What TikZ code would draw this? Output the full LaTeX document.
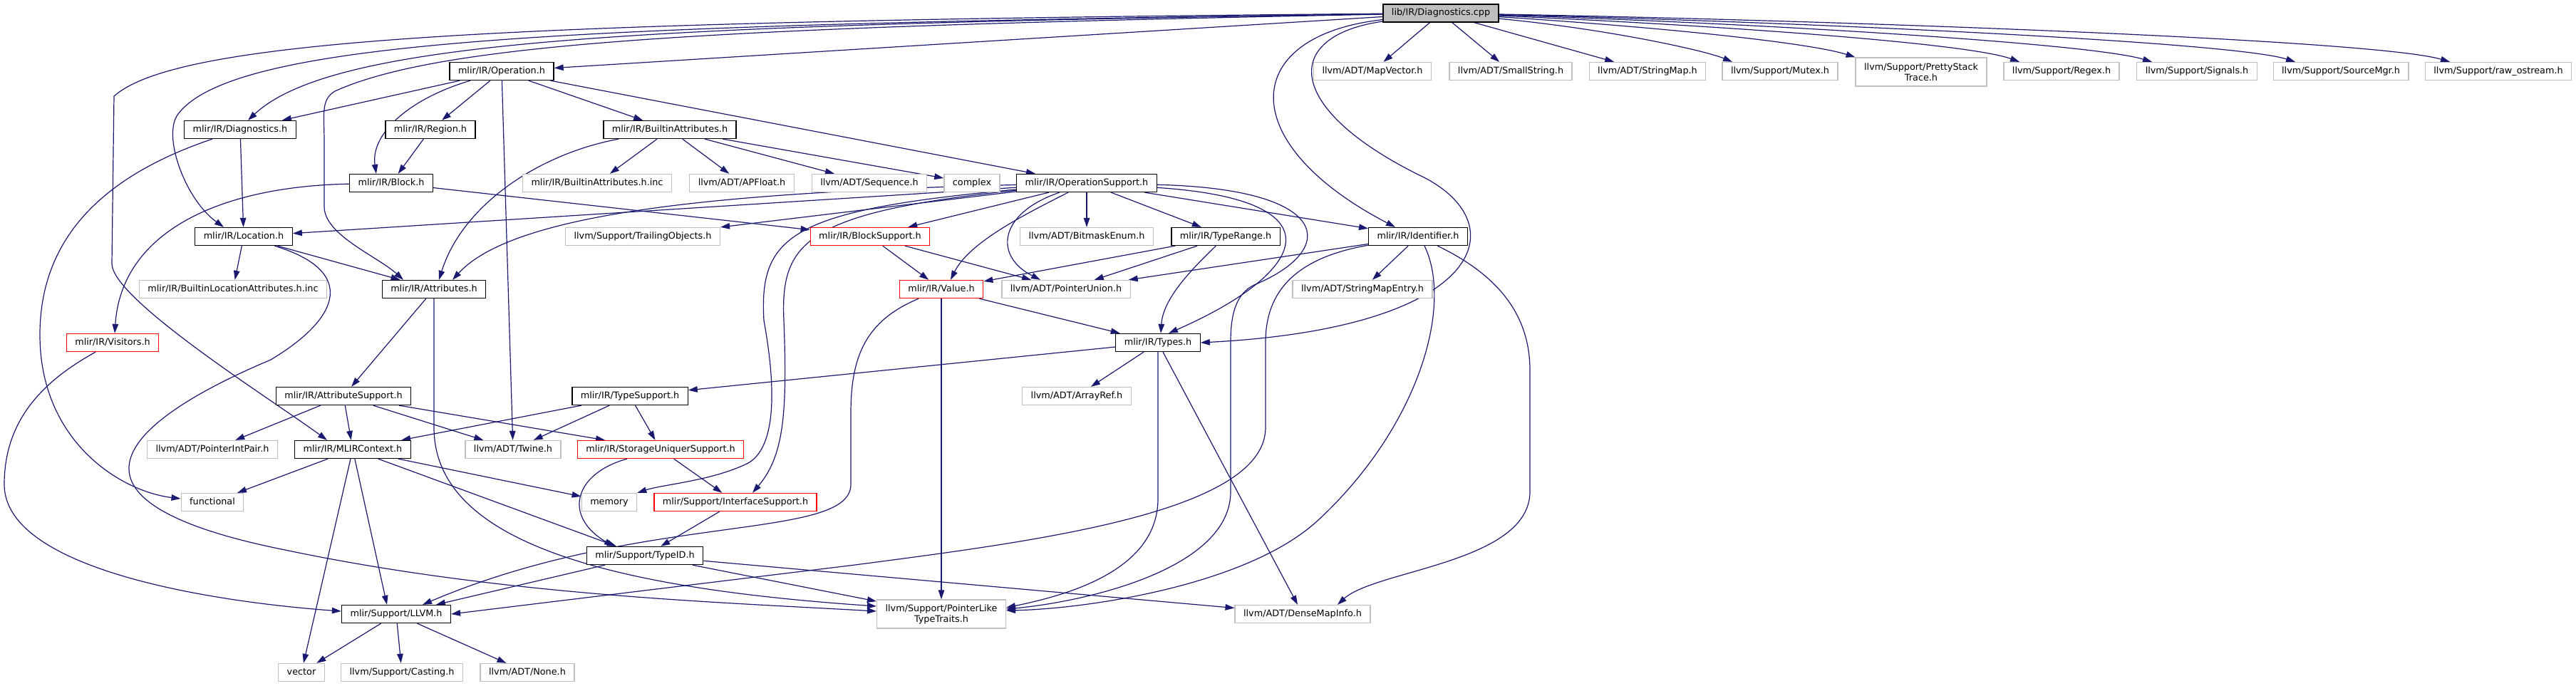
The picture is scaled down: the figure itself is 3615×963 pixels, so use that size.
\documentclass[tikz,border=0pt]{standalone}
\usepackage{fontspec}
\setmainfont{DejaVu Sans}
\usepackage{tikz}
\usetikzlibrary{arrows.meta,backgrounds}
\definecolor{incEdge}{HTML}{191970}
\definecolor{incRed}{HTML}{FF0000}
\definecolor{incGrey}{HTML}{BFBFBF}
\definecolor{incRoot}{HTML}{BFBFBF}

\begin{document}
\begin{tikzpicture}[
  x=1pt,y=-1pt,
  >={Triangle[length=13pt,width=8.5pt]},
  every node/.style={font=\fontsize{12.8}{15}\selectfont},
  box/.style={fill=white,line width=1.3pt,minimum height=25pt,
              inner xsep=12pt,inner ysep=5pt},
  hd/.style={box,draw=black,text height=9.5pt,text depth=3pt},
  hdred/.style={box,draw=incRed,text height=9.5pt,text depth=3pt},
  hdext/.style={box,draw=incGrey,text height=9.5pt,text depth=3pt},
  hdtwo/.style={box,draw=incGrey,minimum height=40pt,align=center},
  inc/.style={->,draw=incEdge,line width=1.2pt},
]
  \useasboundingbox (0,0) rectangle (3615,963);

  % root and first row
  \node[hd,fill=incRoot] (cpp) at (2022,18.5) {lib/IR/Diagnostics.cpp};
  \node[hd]     (op)       at (704,100)  {mlir/IR/Operation.h};
  \node[hdext]  (mapvec)   at (1926,100) {llvm/ADT/MapVector.h};
  \node[hdext]  (smallstr) at (2120,100) {llvm/ADT/SmallString.h};
  \node[hdext]  (strmap)   at (2312,100) {llvm/ADT/StringMap.h};
  \node[hdext]  (mutex)    at (2498,100) {llvm/Support/Mutex.h};
  \node[hdtwo]  (pretty)   at (2696,101) {llvm/Support/PrettyStack\\Trace.h};
  \node[hdext]  (regex)    at (2893,100) {llvm/Support/Regex.h};
  \node[hdext]  (signals)  at (3083,100) {llvm/Support/Signals.h};
  \node[hdext]  (srcmgr)   at (3285,100) {llvm/Support/SourceMgr.h};
  \node[hdext]  (rawos)    at (3506,100) {llvm/Support/raw\_ostream.h};

  \node[hd]     (diag)     at (337,182)  {mlir/IR/Diagnostics.h};
  \node[hd]     (region)   at (604,182)  {mlir/IR/Region.h};
  \node[hd]     (battr)    at (940,182)  {mlir/IR/BuiltinAttributes.h};

  \node[hd]     (block)    at (549,257)  {mlir/IR/Block.h};
  \node[hdext]  (battrinc) at (838,257)  {mlir/IR/BuiltinAttributes.h.inc};
  \node[hdext]  (apfloat)  at (1041,257) {llvm/ADT/APFloat.h};
  \node[hdext]  (seq)      at (1220,257) {llvm/ADT/Sequence.h};
  \node[hdext]  (complex)  at (1364,257) {complex};
  \node[hd]     (opsup)    at (1525,257) {mlir/IR/OperationSupport.h};

  \node[hd]     (loc)      at (342,332)  {mlir/IR/Location.h};
  \node[hdext]  (trailing) at (902,332)  {llvm/Support/TrailingObjects.h};
  \node[hdred]  (blocksup) at (1221,332) {mlir/IR/BlockSupport.h};
  \node[hdext]  (bitmask)  at (1525,332) {llvm/ADT/BitmaskEnum.h};
  \node[hd]     (typerange) at (1720,332) {mlir/IR/TypeRange.h};
  \node[hd]     (ident)    at (1990,332) {mlir/IR/Identifier.h};

  \node[hdext]  (bloc)     at (327,406)  {mlir/IR/BuiltinLocationAttributes.h.inc};
  \node[hd]     (attr)     at (609,406)  {mlir/IR/Attributes.h};
  \node[hdred]  (value)    at (1321,406) {mlir/IR/Value.h};
  \node[hdext]  (ptrunion) at (1496,406) {llvm/ADT/PointerUnion.h};
  \node[hdext]  (strmapentry) at (1912,406) {llvm/ADT/StringMapEntry.h};

  \node[hdred]  (visitors) at (158,481)  {mlir/IR/Visitors.h};
  \node[hd]     (types)    at (1625,481) {mlir/IR/Types.h};

  \node[hd]     (attrsup)  at (482,556)  {mlir/IR/AttributeSupport.h};
  \node[hd]     (typesup)  at (884,556)  {mlir/IR/TypeSupport.h};
  \node[hdext]  (arrayref) at (1511,556) {llvm/ADT/ArrayRef.h};

  \node[hdext]  (ptrintpair) at (298,631) {llvm/ADT/PointerIntPair.h};
  \node[hd]     (mlirctx)  at (495,631)  {mlir/IR/MLIRContext.h};
  \node[hdext]  (twine)    at (720,631)  {llvm/ADT/Twine.h};
  \node[hdred]  (storage)  at (927,631)  {mlir/IR/StorageUniquerSupport.h};

  \node[hdext]  (functional) at (298,705) {functional};
  \node[hdext]  (memory)   at (855,705)  {memory};
  \node[hdred]  (iface)    at (1032,705) {mlir/Support/InterfaceSupport.h};

  \node[hd]     (typeid)   at (905,780)  {mlir/Support/TypeID.h};

  \node[hd]     (llvm)     at (556,862)  {mlir/Support/LLVM.h};
  \node[hdtwo]  (pltt)     at (1321,862) {llvm/Support/PointerLike\\TypeTraits.h};
  \node[hdext]  (densemap) at (1828,862) {llvm/ADT/DenseMapInfo.h};

  \node[hdext]  (vector)   at (423,944)  {vector};
  \node[hdext]  (casting)  at (564,944)  {llvm/Support/Casting.h};
  \node[hdext]  (none)     at (740,944)  {llvm/ADT/None.h};

  \begin{scope}[on background layer]
  % from the root
  \draw[inc] (cpp) -- (op);
  \draw[inc] (cpp) -- (mapvec);
  \draw[inc] (cpp) -- (smallstr);
  \draw[inc] (cpp) -- (strmap);
  \draw[inc] (cpp) .. controls (2250,40) and (2390,70) .. ([xshift=-67pt]mutex.north);
  \draw[inc] (cpp) .. controls (2330,38) and (2540,60) .. (pretty.north west);
  \draw[inc] (cpp) .. controls (2400,35) and (2760,60) .. ([xshift=-59pt]regex.north);
  \draw[inc] (cpp) .. controls (2450,32) and (2930,60) .. ([xshift=-63pt]signals.north);
  \draw[inc] (cpp) .. controls (2500,30) and (3130,58) .. ([xshift=-64pt]srcmgr.north);
  \draw[inc] (cpp) .. controls (2550,28) and (3330,55) .. ([xshift=-68pt]rawos.north);
  \draw[inc] (cpp) .. controls (900,35) and (470,55) .. ([xshift=11pt]diag.north);
  \draw[inc] (cpp) .. controls (800,35) and (330,55) .. (250,160)
        .. controls (227,190) and (260,280) .. ([xshift=-28pt]loc.north);
  \draw[inc] (cpp) .. controls (700,30) and (250,55) .. (160,135)
        -- (157,370) .. controls (157,420) and (380,560) .. ([xshift=-36pt]mlirctx.north);
  \draw[inc] (cpp) .. controls (1000,38) and (620,60) .. (470,128)
        .. controls (450,140) and (455,160) .. (455,200) -- (455,290)
        .. controls (455,330) and (530,360) .. ([xshift=-43pt]attr.north);
  \draw[inc] (cpp) .. controls (1740,50) and (1730,200) .. ([xshift=-32pt]ident.north);
  \draw[inc] (cpp) .. controls (1800,50) and (1800,150) .. (1990,245)
        .. controls (2130,310) and (2090,460) .. (types.east);

  % Operation.h and its neighbours
  \draw[inc] (op) -- (diag);
  \draw[inc] (op) -- (region);
  \draw[inc] (op) -- (battr);
  \draw[inc] (op) -- ([xshift=-72pt]opsup.north);
  \draw[inc] (op) -- (twine);
  \draw[inc] (op) .. controls (570,140) and (520,190) .. ([xshift=-21pt]block.north);
  \draw[inc] (diag) -- (loc);
  \draw[inc] (diag) .. controls (150,245) and (56,330) .. (56,470)
        .. controls (56,620) and (170,690) .. ([yshift=5pt]functional.west);
  \draw[inc] (region) -- (block);
  \draw[inc] (block) -- (blocksup);
  \draw[inc] (block) .. controls (300,262) and (170,330) .. ([xshift=3pt]visitors.north);
  \draw[inc] (battr) -- (battrinc);
  \draw[inc] (battr) -- (apfloat);
  \draw[inc] (battr) -- (seq);
  \draw[inc] (battr) -- (complex);
  \draw[inc] (battr) .. controls (760,215) and (650,285) .. ([xshift=7pt]attr.north);

  % OperationSupport.h
  \draw[inc] (opsup) -- (loc);
  \draw[inc] (opsup) -- (trailing);
  \draw[inc] (opsup) -- (blocksup);
  \draw[inc] (opsup) -- (bitmask);
  \draw[inc] (opsup) -- (typerange);
  \draw[inc] (opsup) -- (ident);
  \draw[inc] (opsup) .. controls (1000,270) and (720,300) .. ([xshift=26pt]attr.north);
  \draw[inc] (opsup) .. controls (1440,300) and (1360,340) .. ([xshift=13pt]value.north);
  \draw[inc] (opsup) .. controls (1400,300) and (1395,360) .. ([xshift=-36pt]ptrunion.north);
  \draw[inc] (opsup) .. controls (1880,280) and (1840,380) .. ([xshift=15pt]types.north);
  \draw[inc] (opsup) .. controls (1870,265) and (1880,350) .. (1760,400)
        .. controls (1735,412) and (1727,440) .. (1727,480) -- (1727,690)
        .. controls (1727,800) and (1520,845) .. ([yshift=7pt]pltt.east);
  \draw[inc] (opsup) .. controls (1110,295) and (1065,330) .. (1072,450)
        .. controls (1092,560) and (1085,630) .. (1050,650)
        .. controls (1000,675) and (930,680) .. (memory.north east);
  \draw[inc] (opsup) .. controls (1130,298) and (1095,340) .. (1100,450)
        .. controls (1105,580) and (1100,640) .. ([xshift=24pt]iface.north);

  % Identifier.h, TypeRange.h, BlockSupport.h, Value.h, Types.h
  \draw[inc] (ident) -- (ptrunion);
  \draw[inc] (ident) -- (strmapentry);
  \draw[inc] (ident) .. controls (1830,360) and (1776,400) .. (1776,480) -- (1776,600)
        .. controls (1776,720) and (1450,760) .. (1200,793) -- (llvm.east);
  \draw[inc] ([xshift=9pt]ident.south) .. controls (2040,430) and (1990,600) .. (1850,730)
        .. controls (1750,823) and (1520,855) .. ([yshift=5pt]pltt.east);
  \draw[inc] (ident) .. controls (2100,385) and (2147,440) .. (2147,520) -- (2147,690)
        .. controls (2147,790) and (1930,800) .. ([xshift=49pt]densemap.north);
  \draw[inc] (typerange) -- (value);
  \draw[inc] (typerange) -- (ptrunion);
  \draw[inc] (typerange) .. controls (1670,380) and (1632,420) .. ([xshift=4pt]types.north);
  \draw[inc] (blocksup) -- (value);
  \draw[inc] (blocksup) -- (ptrunion);
  \draw[inc] (value) -- (types);
  \draw[inc] (value) -- (pltt);
  \draw[inc] (value) .. controls (1215,450) and (1194,500) .. (1194,580) -- (1194,680)
        .. controls (1194,760) and (900,718) .. ([xshift=37pt]llvm.north);
  \draw[inc] (types) -- (typesup);
  \draw[inc] (types) -- (arrayref);
  \draw[inc] (types) -- (densemap);
  \draw[inc] (types.south) -- (1625,700)
        .. controls (1625,800) and (1500,835) .. ([yshift=9pt]pltt.east);

  % Location.h, Attributes.h, Visitors.h
  \draw[inc] (loc) -- (bloc);
  \draw[inc] (loc) -- (attr);
  \draw[inc] (loc) .. controls (500,380) and (480,445) .. (380,505)
        .. controls (190,585) and (40,700) .. (400,772)
        .. controls (700,835) and (1000,845) .. ([yshift=4pt]pltt.west);
  \draw[inc] (attr) -- (attrsup);
  \draw[inc] (attr.south) -- (609,600)
        .. controls (609,760) and (850,825) .. ([yshift=11pt]pltt.west);
  \draw[inc] (visitors) .. controls (60,535) and (6,590) .. (6,680)
        .. controls (6,800) and (300,845) .. ([yshift=4pt]llvm.west);

  % support headers
  \draw[inc] (attrsup) -- (ptrintpair);
  \draw[inc] (attrsup) -- (mlirctx);
  \draw[inc] (attrsup) -- (twine);
  \draw[inc] (attrsup) -- (storage);
  \draw[inc] (typesup) -- (mlirctx);
  \draw[inc] (typesup) -- (twine);
  \draw[inc] (typesup) -- (storage);
  \draw[inc] (storage) -- (iface);
  \draw[inc] (storage) .. controls (805,665) and (790,725) .. ([xshift=-44pt]typeid.north);
  \draw[inc] (mlirctx) -- (functional);
  \draw[inc] (mlirctx) -- (memory);
  \draw[inc] (mlirctx) -- ([xshift=-40pt]typeid.north);
  \draw[inc] (mlirctx) -- ([xshift=-13pt]llvm.north);
  \draw[inc] (mlirctx) -- (vector);
  \draw[inc] (iface) -- (typeid);
  \draw[inc] (typeid) -- (llvm);
  \draw[inc] (typeid) -- (pltt);
  \draw[inc] (typeid) -- (densemap);
  \draw[inc] (llvm) -- (vector);
  \draw[inc] (llvm) -- (casting);
  \draw[inc] (llvm) -- (none);
  \end{scope}
\end{tikzpicture}
\end{document}
